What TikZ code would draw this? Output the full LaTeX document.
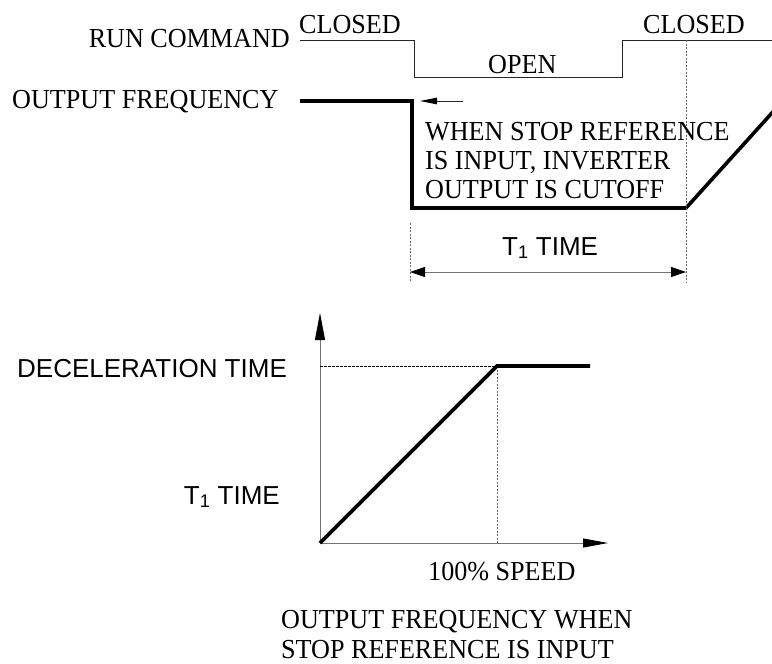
\documentclass[tikz,border=0pt]{standalone}
\usepackage{fontspec}
\setmainfont[FakeStretch=0.95]{Liberation Serif}
\setsansfont{Liberation Sans}
\usetikzlibrary{arrows.meta}
\begin{document}
\begin{tikzpicture}[x=1pt,y=-1pt,
  thinline/.style={line width=0.9pt, black!85},
  greyline/.style={line width=0.9pt, black!55},
  thickline/.style={line width=3.6pt, line join=miter},
  guide/.style={line width=0.7pt, black!60, dash pattern=on 2pt off 1.5pt},
  levelguide/.style={line width=0.7pt, black, dash pattern=on 2.5pt off 1.5pt},
  serif/.style={font=\fontsize{27.5}{29}\selectfont, inner sep=0pt},
  sans/.style={font=\sffamily\fontsize{26}{29}\selectfont, inner sep=0pt},
  tipA/.style={{Triangle[length=15pt,width=10pt,color=black]}},
]
\useasboundingbox (0,0) rectangle (772,664);
\clip (0,0) rectangle (772,664);

% ---- run command ----
\coordinate (r0) at (300,40);
\coordinate (r1) at (414,40);
\coordinate (r2) at (414,77);
\coordinate (r3) at (622,77);
\coordinate (r4) at (622,40);
\coordinate (r5) at (772,40);
\draw[thinline] (r0) -- (r1) -- (r2) -- (r3) -- (r4) -- (r5);
\node[serif, anchor=base east] (runlbl) at (290,47) {RUN COMMAND};
\node[serif, anchor=base west] (closedA) at (299,33) {CLOSED};
\node[serif, anchor=base west] (openlbl) at (488,73) {OPEN};
\node[serif, anchor=base west] (closedB) at (643,33) {CLOSED};

% ---- output frequency ----
\node[serif, anchor=base west] (oflbl) at (12,108) {OUTPUT FREQUENCY};
\coordinate (f0) at (300,101);
\coordinate (f1) at (412,101);
\coordinate (f2) at (412,208);
\coordinate (f3) at (686,208);
\coordinate (f4) at (790,93);
\draw[thickline] (f0) -- (f1) -- (f2) -- (f3) -- (f4);

\coordinate (dA0) at (686,40);
\coordinate (dA1) at (686,282);
\coordinate (dB0) at (410,223);
\coordinate (dB1) at (410,282);
\draw[guide] (dA0) -- (dA1);
\draw[guide] (dB0) -- (dB1);

\coordinate (sa0) at (463,101);
\coordinate (sa1) at (420,101);
\draw[thinline, -{Triangle[length=17pt,width=6.5pt,color=black]}] (sa0) -- (sa1);

\node[serif, anchor=base west] (noteA) at (425,140) {WHEN STOP REFERENCE};
\node[serif, anchor=base west] (noteB) at (425,169) {IS INPUT, INVERTER};
\node[serif, anchor=base west] (noteC) at (425,198) {OUTPUT IS CUTOFF};

\node[sans, anchor=base west] (t1top) at (502,255) {T\textsubscript{1} TIME};
\coordinate (da0) at (410,272);
\coordinate (da1) at (686,272);
\draw[greyline, {Triangle[length=15pt,width=10pt,color=black]}-{Triangle[length=15pt,width=10pt,color=black]}] (da0) -- (da1);

% ---- lower graph ----
\coordinate (o) at (320,543);
\coordinate (ytip) at (320,313);
\coordinate (xtip) at (608,543);
\coordinate (knee) at (497,366);
\coordinate (ylev) at (320,366);
\coordinate (xlev) at (497,543);
\coordinate (pend) at (590,366);
\draw[greyline, -{Triangle[length=27pt,width=10pt,color=black]}] (o) -- (ytip);
\draw[greyline, -{Triangle[length=25pt,width=9pt,color=black]}] (o) -- (xtip);
\draw[levelguide] (ylev) -- (knee);
\draw[guide] (knee) -- (xlev);
\draw[thickline] (o) -- (knee) -- (pend);

\node[sans, anchor=base west] (decel) at (17,377) {DECELERATION TIME};
\node[sans, anchor=base east] (t1low) at (280,504) {T\textsubscript{1} TIME};
\node[serif, anchor=base west] (speed) at (428,580) {100\% SPEED};
\node[serif, anchor=base west] (capA) at (281,628) {OUTPUT FREQUENCY WHEN};
\node[serif, anchor=base west] (capB) at (281,658) {STOP REFERENCE IS INPUT};
\end{tikzpicture}
\end{document}
